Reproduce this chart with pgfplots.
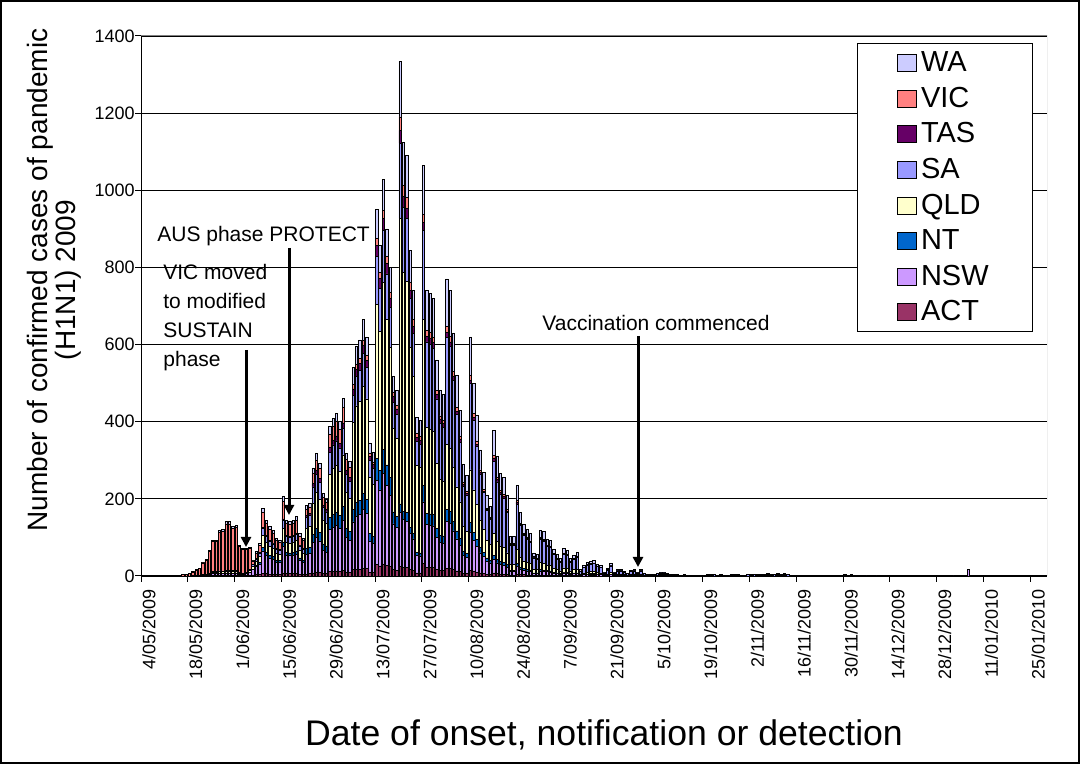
\documentclass[border=0pt]{standalone}
\usepackage{fontspec}
\setmainfont{Liberation Sans}
\usepackage{pgfplots}
\usepackage{pgfplotstable}
\pgfplotsset{compat=1.18}
\usetikzlibrary{arrows.meta}
\definecolor{cWA}{HTML}{CCCCFF}
\definecolor{cVIC}{HTML}{FF8080}
\definecolor{cTAS}{HTML}{660066}
\definecolor{cSA}{HTML}{9999FF}
\definecolor{cQLD}{HTML}{FFFFCC}
\definecolor{cNT}{HTML}{0066CC}
\definecolor{cNSW}{HTML}{CC99FF}
\definecolor{cACT}{HTML}{993366}
\pgfplotstableread{
d ACT NSW NT QLD SA TAS VIC WA
9 0 0 0 0 0 0 1 0
10 0 0 0 0 0 0 1 0
11 0 0 0 0 0 0 2 0
12 0 0 0 0 0 0 3 0
13 0 0 0 0 0 0 5 0
14 0 0 0 0 0 0 6 1
15 0 1 0 0 0 0 9 1
16 0 1 0 0 0 0 14 1
17 0 1 0 1 0 0 17 1
18 0 2 0 1 1 0 30 1
19 0 2 0 1 1 0 37 2
20 1 3 0 2 1 0 57 3
21 1 5 0 3 2 0 78 3
22 1 5 0 3 2 0 79 3
23 1 6 0 4 2 0 101 5
24 1 6 0 4 2 0 103 5
25 1 7 0 4 3 0 120 6
26 1 7 0 4 3 0 120 6
27 1 6 0 4 3 0 109 5
28 1 7 0 4 3 0 111 5
29 1 4 0 2 2 0 68 3
30 1 4 0 2 1 0 61 3
31 1 5 0 3 1 0 59 3
32 1 8 1 4 2 0 55 3
33 2 14 2 7 4 1 9 2
34 3 21 3 11 6 1 14 4
35 3 28 4 15 9 2 19 5
36 7 58 9 32 18 3 39 10
37 6 48 7 26 15 3 32 8
38 5 42 6 23 13 3 28 8
39 5 39 6 21 12 2 26 7
40 4 32 5 18 10 2 21 6
41 4 31 5 17 9 2 20 5
42 8 68 10 37 21 4 45 13
43 6 48 7 26 15 3 32 8
44 6 47 7 25 14 3 31 8
45 6 48 7 26 15 3 32 8
46 6 51 8 28 15 3 34 9
47 4 37 6 20 11 2 24 7
48 4 32 5 18 10 2 21 6
49 5 51 15 53 27 5 17 9
50 6 53 15 54 28 6 17 9
51 8 78 22 81 42 8 27 14
52 10 89 25 92 47 10 28 16
53 9 82 23 85 44 9 26 14
54 6 60 17 62 32 6 21 11
55 6 56 16 58 30 6 18 10
56 12 108 31 112 58 12 35 19
57 12 115 33 119 61 12 37 20
58 13 118 34 122 63 13 38 21
59 12 112 32 116 60 12 36 20
60 14 129 37 134 69 14 41 23
61 10 89 25 92 48 10 28 16
62 9 83 24 86 44 9 27 14
63 16 124 32 227 70 16 11 44
64 18 137 36 250 77 18 12 47
65 18 141 37 257 80 18 12 49
66 20 153 40 279 86 20 13 54
67 19 143 37 260 81 19 12 49
68 10 79 21 145 45 10 7 28
69 10 74 19 134 42 10 6 25
70 29 219 57 399 124 29 19 75
71 26 197 51 360 111 26 17 68
72 31 236 62 432 134 31 21 81
73 27 207 54 378 117 27 18 72
74 24 184 48 336 104 24 16 64
75 16 119 31 217 67 16 10 41
76 14 111 29 202 63 14 10 39
77 25 140 22 740 195 33 35 144
78 22 124 22 619 169 28 28 113
79 22 120 22 600 163 27 27 109
80 17 93 17 465 127 21 21 84
81 15 81 15 407 111 19 18 74
82 8 45 8 226 62 10 10 42
83 8 44 8 222 60 10 10 41
84 32 160 43 430 230 21 21 128
85 22 111 30 222 222 15 15 103
86 22 110 29 220 220 15 15 102
87 22 108 29 216 216 14 14 101
88 17 84 22 168 168 11 11 79
89 14 72 19 145 145 10 10 67
90 14 71 19 141 141 9 9 66
91 19 123 31 169 277 12 16 123
92 19 118 30 163 266 11 15 118
93 16 101 25 139 227 9 13 100
94 13 83 21 114 187 8 10 84
95 11 69 17 95 155 6 9 68
96 7 46 12 64 104 4 6 47
97 7 42 10 57 94 4 5 41
98 15 99 25 136 224 9 12 100
99 13 80 20 110 180 8 10 79
100 10 67 17 92 150 6 8 67
101 8 52 13 72 118 5 7 52
102 7 43 11 59 96 4 5 43
103 5 34 8 46 76 3 4 34
104 5 29 7 40 65 3 3 28
105 8 34 11 57 188 8 7 64
106 6 28 9 46 155 6 6 53
107 5 24 8 40 134 5 5 46
108 5 23 8 38 128 5 5 43
109 4 19 6 31 104 4 4 36
110 2 9 3 15 51 2 2 18
111 2 9 3 15 51 2 2 18
112 5 21 7 35 118 5 4 40
113 3 15 5 25 83 3 3 28
114 3 12 4 20 66 3 2 23
115 2 11 4 18 60 2 3 20
116 2 10 3 17 55 2 2 19
117 1 5 2 9 30 1 2 10
118 1 5 2 8 28 1 1 9
119 2 11 4 18 60 2 2 20
120 2 10 3 17 58 2 3 20
121 2 9 3 14 48 2 1 16
122 2 8 3 14 46 2 1 16
123 1 6 2 11 35 1 2 12
124 1 5 2 8 28 1 1 9
125 1 4 1 7 23 1 1 7
126 1 7 2 11 36 1 2 12
127 1 6 2 10 34 1 2 11
128 1 4 1 7 23 1 1 8
129 1 5 2 8 27 1 1 9
130 1 5 2 9 31 1 2 10
131 0 2 0 2 8 0 1 3
132 0 3 1 4 14 0 1 5
133 0 4 1 5 18 0 1 6
134 1 4 1 6 19 0 1 7
135 1 4 1 6 21 0 1 7
136 0 3 1 5 15 0 1 5
137 0 3 1 4 14 0 1 5
138 0 1 0 2 5 0 0 2
139 0 2 0 3 10 0 1 4
140 0 4 1 5 16 0 1 6
141 0 1 0 2 5 0 0 2
142 0 2 0 3 8 0 1 3
143 0 2 0 3 8 0 1 3
144 0 1 0 2 6 0 0 3
145 0 1 0 1 4 0 0 1
146 0 2 0 2 7 0 0 3
147 0 2 0 3 8 0 1 3
148 0 1 0 2 5 0 0 2
149 0 2 0 3 8 0 1 3
150 0 1 0 1 4 0 0 2
151 0 1 0 0 2 0 0 1
152 0 1 0 1 2 0 0 1
153 0 0 0 0 2 0 0 1
154 0 1 0 1 4 0 0 2
155 0 1 0 2 5 0 0 2
156 0 1 0 2 5 0 0 2
157 0 1 0 1 3 0 0 1
158 0 1 0 0 2 0 0 1
159 0 1 0 1 2 0 0 1
160 0 0 0 0 2 0 0 1
161 0 0 0 0 1 0 0 1
162 0 0 0 0 2 0 0 1
163 0 1 0 0 1 0 0 0
164 0 0 0 0 1 0 0 0
165 0 0 0 0 1 0 0 1
166 0 1 0 0 0 0 0 0
167 0 0 0 0 2 0 0 0
168 0 0 0 0 1 0 0 0
169 0 0 0 0 2 0 0 1
170 0 1 0 0 2 0 0 0
171 0 0 0 0 3 0 0 1
172 0 0 0 0 2 0 0 0
173 0 0 0 1 2 0 0 0
174 0 0 0 0 1 0 0 0
175 0 0 0 0 1 0 0 1
176 0 1 0 0 2 0 0 1
177 0 1 0 0 3 0 0 1
178 0 0 0 0 2 0 0 1
179 0 0 0 0 1 0 0 0
180 0 0 0 0 2 0 0 0
181 0 0 0 0 3 0 0 1
182 0 1 0 0 3 0 0 1
183 0 0 0 0 3 0 0 1
184 0 1 0 0 3 0 0 1
185 0 0 0 0 2 0 0 1
186 0 1 0 0 3 0 0 1
187 0 1 0 1 3 0 0 1
188 0 1 0 0 3 0 0 1
189 0 0 0 0 3 0 0 1
190 0 1 0 1 3 0 0 1
191 0 1 0 0 3 0 0 1
192 0 1 0 1 3 0 0 1
193 0 0 0 0 3 0 0 1
194 0 0 0 0 1 0 0 0
195 0 0 0 0 1 0 0 0
196 0 0 0 0 2 0 0 0
197 0 0 0 0 2 0 0 0
198 0 0 0 0 1 0 0 0
199 0 0 0 0 2 0 0 0
200 0 0 0 0 1 0 0 0
202 0 0 0 0 1 0 0 0
204 0 0 0 0 1 0 0 0
205 0 0 0 0 2 0 0 0
206 0 0 0 0 2 0 0 0
207 0 0 0 0 1 0 0 0
208 0 0 0 0 1 0 0 0
209 0 0 0 0 2 0 0 0
210 0 0 0 0 2 0 0 1
211 0 0 0 0 2 0 0 0
212 0 0 0 0 2 0 0 1
213 0 0 0 0 2 0 0 0
214 0 0 0 0 2 0 0 0
215 0 0 0 0 1 0 0 0
217 0 0 0 0 1 0 0 0
218 0 0 0 0 1 0 0 0
220 0 0 0 0 1 0 0 0
221 0 0 0 0 2 0 0 0
223 0 0 0 0 1 0 0 0
226 0 0 0 0 1 0 0 0
227 0 0 0 0 1 0 0 0
228 0 0 0 0 2 0 0 0
229 0 0 0 0 1 0 0 0
230 0 0 0 0 2 0 0 0
231 0 0 0 0 2 0 0 0
232 0 0 0 0 1 0 0 0
233 0 0 0 0 2 0 0 0
234 0 0 0 0 1 0 0 0
237 0 0 0 0 1 0 0 0
240 0 0 0 0 1 0 0 0
243 0 0 0 0 1 0 0 0
247 0 16 0 0 0 0 0 1
257 0 0 0 0 1 0 0 0
260 0 0 0 0 1 0 0 0
264 0 0 0 0 1 0 0 0
266 0 0 0 0 2 0 0 0
267 0 0 0 0 1 0 0 0
}\datatable
\begin{document}
\begin{tikzpicture}[x=1pt,y=1pt]
\begin{axis}[
  at={(70.5pt,94pt)}, anchor=south west,
  scale only axis, width=453pt, height=270pt,
  xmin=-0.5, xmax=270.5, ymin=0, ymax=1400,
  ybar stacked, bar width=0.72,
  xtick={-0.5,13.5,...,265.5},
  xticklabels={4/05/2009,18/05/2009,1/06/2009,15/06/2009,29/06/2009,13/07/2009,27/07/2009,10/08/2009,24/08/2009,7/09/2009,21/09/2009,5/10/2009,19/10/2009,2/11/2009,16/11/2009,30/11/2009,14/12/2009,28/12/2009,11/01/2010,25/01/2010},
  ytick={0,200,...,1400},
  ymajorgrids, major grid style={black, line width=0.4pt},
  axis x line*=bottom, axis y line*=left,
  axis line style={black, line width=0.5pt},
  tick align=outside, major tick length=3pt,
  tick style={black, line width=0.5pt},
  xticklabel style={xshift=4pt, rotate=90, anchor=east, font=\fontsize{9}{10}\selectfont},
  yticklabel style={font=\fontsize{9}{10}\selectfont, inner xsep=0.5pt, xshift=0.5pt},
  /pgf/number format/assume math mode=true,
  /pgf/number format/1000 sep={},
  legend style={at={(0.790,0.987)}, anchor=north west, draw=black, line width=0.5pt, fill=white,
    font=\fontsize{14.5}{15}\selectfont, row sep=2.2pt, inner xsep=20pt, inner ysep=2pt},
  legend cell align=left,
  reverse legend,
  legend image code/.code={\draw[#1, draw=black, line width=0.4pt] (0pt,-4.25pt) rectangle (9.5pt,4.25pt);},
  every axis plot/.append style={draw=black, line width=0.35pt},
]
\addplot[fill=cACT] table[x=d,y=ACT] {\datatable};
\addplot[fill=cNSW] table[x=d,y=NSW] {\datatable};
\addplot[fill=cNT] table[x=d,y=NT] {\datatable};
\addplot[fill=cQLD] table[x=d,y=QLD] {\datatable};
\addplot[fill=cSA] table[x=d,y=SA] {\datatable};
\addplot[fill=cTAS] table[x=d,y=TAS] {\datatable};
\addplot[fill=cVIC] table[x=d,y=VIC] {\datatable};
\addplot[fill=cWA] table[x=d,y=WA] {\datatable};
\legend{ACT,NSW,NT,QLD,SA,TAS,VIC,WA}
\draw[gray, line width=0.5pt] (rel axis cs:0,1) -- (rel axis cs:1,1) -- (rel axis cs:1,0);
\end{axis}
\node[rotate=90, align=center, font=\fontsize{14}{14}\selectfont] at (27,242) {Number of confirmed cases of pandemic\\(H1N1) 2009};
\node[font=\fontsize{17.8}{20}\selectfont] at (302,14.5) {Date of onset, notification or detection};
\node[anchor=west, font=\fontsize{10.5}{12}\selectfont, inner sep=0pt] at (78.5,264) {AUS phase PROTECT};
\node[anchor=north west, align=left, font=\fontsize{10.5}{14.5}\selectfont, inner sep=0pt] at (81.5,250) {VIC moved\\to modified\\SUSTAIN\\phase};
\node[anchor=west, font=\fontsize{10.5}{12}\selectfont, inner sep=0pt] at (271,220.5) {Vaccination commenced};
\draw[line width=1.5pt, -{Triangle[length=5pt,width=5pt]}] (144.5,258) -- (144.5,124.5);
\draw[line width=1.5pt, -{Triangle[length=5pt,width=5pt]}] (123,207) -- (123,108.5);
\draw[line width=1.5pt, -{Triangle[length=5pt,width=5pt]}] (319,214) -- (319,98.5);
\pgfresetboundingbox
\useasboundingbox (0,0) rectangle (540,382);
\draw[black, line width=0.6pt] (0.5,0.5) rectangle (539.5,381.5);
\end{tikzpicture}
\end{document}
